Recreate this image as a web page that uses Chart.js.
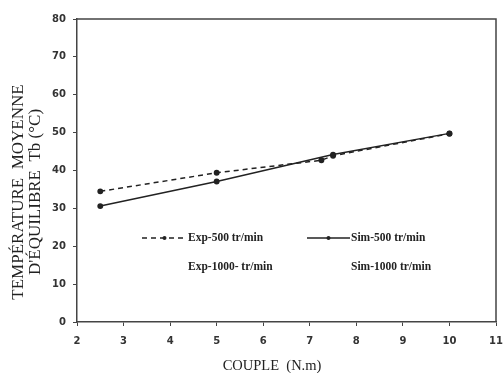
<!DOCTYPE html>
<html>
<head>
<meta charset="utf-8">
<script src="https://cdn.jsdelivr.net/npm/chart.js@4/dist/chart.umd.min.js"></script>
<style>
  html, body { margin: 0; padding: 0; background: #fff; }
  #wrap { width: 503px; height: 373px; }
</style>
</head>
<body>
<div id="wrap"><canvas id="couple"></canvas></div>
<script>
// couple (N.m)
const exp500X = [2.5, 5, 7.25, 7.5, 10];
const exp500Y = [34.5, 39.4, 42.7, 43.9, 49.7];
const sim500X = [2.5, 5, 7.5, 10];
const sim500Y = [30.6, 37.1, 44.2, 49.8];
// les courbes 1000 tr/min ne sont pas visibles sur la figure
const exp1000X = [];
const exp1000Y = [];
const sim1000X = [];
const sim1000Y = [];

const xTicks = [2, 3, 4, 5, 6, 7, 8, 9, 10, 11];
const yTicks = [0, 10, 20, 30, 40, 50, 60, 70, 80];

const toPoints = (xs, ys) => xs.map((x, i) => ({ x: x, y: ys[i] }));

// cadre haut + droite, titres des axes et légende dans la zone du tracé
const framePlugin = {
  id: 'frame',
  afterDraw(chart) {
    const { ctx, chartArea } = chart;
    ctx.save();
    ctx.strokeStyle = '#444';
    ctx.lineWidth = 1.5;
    ctx.beginPath();
    ctx.moveTo(chartArea.left, chartArea.top);
    ctx.lineTo(chartArea.right, chartArea.top);
    ctx.lineTo(chartArea.right, chartArea.bottom);
    ctx.stroke();

    // titres
    ctx.fillStyle = '#222';
    ctx.textAlign = 'center';
    ctx.textBaseline = 'middle';
    ctx.font = '14.5px "Liberation Serif"';
    ctx.fillText('COUPLE  (N.m)', 272, 366);
    ctx.save();
    ctx.translate(19, 192);
    ctx.rotate(-Math.PI / 2);
    ctx.font = '17px "Liberation Serif"';
    ctx.fillText('TEMPÉRATURE  MOYENNE', 0, 0);
    ctx.fillText("D'ÉQUILIBRE  Tb (°C)", 0, 17);
    ctx.restore();

    const items = [
      { ds: 0, x: 142, y: 238, len: 45 },
      { ds: 1, x: 307, y: 238, len: 43 },
      { ds: 2, x: 142, y: 267, len: 45 },
      { ds: 3, x: 307, y: 267, len: 43 },
    ];
    ctx.font = 'bold 11.5px "Liberation Serif"';
    ctx.textAlign = 'left';
    items.forEach((it) => {
      const d = chart.data.datasets[it.ds];
      if (d.showInLegendLine) {
        ctx.strokeStyle = d.borderColor;
        ctx.lineWidth = 1.3;
        ctx.setLineDash(d.borderDash || []);
        ctx.beginPath();
        ctx.moveTo(it.x, it.y);
        ctx.lineTo(it.x + it.len, it.y);
        ctx.stroke();
        ctx.setLineDash([]);
        ctx.beginPath();
        ctx.arc(it.x + it.len / 2, it.y, 2, 0, Math.PI * 2);
        ctx.fillStyle = '#222';
        ctx.fill();
      }
      ctx.fillStyle = '#222';
      ctx.fillText(d.label, it.x + it.len + 1, it.y);
    });
    ctx.restore();
  }
};

new Chart(document.getElementById('couple'), {
  type: 'scatter',
  data: {
    datasets: [
      {
        label: 'Exp-500 tr/min',
        data: toPoints(exp500X, exp500Y),
        showLine: true,
        borderColor: '#222',
        backgroundColor: '#222',
        borderWidth: 1.5,
        borderDash: [5, 4],
        pointRadius: 2.2,
        showInLegendLine: true,
      },
      {
        label: 'Sim-500 tr/min',
        data: toPoints(sim500X, sim500Y),
        showLine: true,
        borderColor: '#222',
        backgroundColor: '#222',
        borderWidth: 1.5,
        pointRadius: 2.2,
        showInLegendLine: true,
      },
      {
        label: 'Exp-1000- tr/min',
        data: toPoints(exp1000X, exp1000Y),
        showLine: true,
        borderColor: '#fff',
        showInLegendLine: false,
      },
      {
        label: 'Sim-1000 tr/min',
        data: toPoints(sim1000X, sim1000Y),
        showLine: true,
        borderColor: '#fff',
        showInLegendLine: false,
      },
    ],
  },
  options: {
    responsive: true,
    maintainAspectRatio: false,
    animation: false,
    layout: { padding: { top: 19, right: 7, left: 0, bottom: 0 } },
    plugins: {
      legend: { display: false },
      tooltip: { enabled: false },
    },
    scales: {
      x: {
        type: 'linear',
        min: 2,
        max: 11,
        afterBuildTicks: (scale) => { scale.ticks = xTicks.map((v) => ({ value: v })); },
        afterFit: (scale) => {
          scale.height = 51;
          scale.paddingLeft = 0;
          scale.paddingRight = 0;
        },
        grid: { drawOnChartArea: false, drawTicks: true, tickLength: 4, color: '#444' },
        border: { display: true, color: '#444', width: 1.5 },
        ticks: {
          color: '#333',
          padding: 9,
          maxRotation: 0,
          font: { family: '"DejaVu Sans"', size: 10, weight: 'bold' },
        },
      },
      y: {
        min: 0,
        max: 80,
        afterBuildTicks: (scale) => { scale.ticks = yTicks.map((v) => ({ value: v })); },
        afterFit: (scale) => {
          scale.width = 77;
          scale.paddingTop = 0;
          scale.paddingBottom = 0;
        },
        grid: { drawOnChartArea: false, drawTicks: true, tickLength: 4, color: '#444' },
        border: { display: true, color: '#444', width: 1.5 },
        ticks: {
          color: '#333',
          padding: 7,
          font: { family: '"DejaVu Sans"', size: 10, weight: 'bold' },
        },
      },
    },
  },
  plugins: [framePlugin],
});
</script>
</body>
</html>
